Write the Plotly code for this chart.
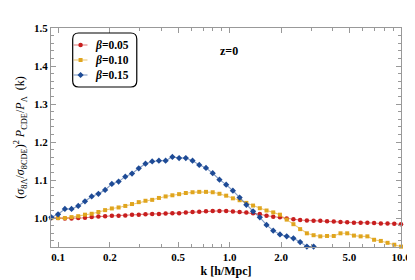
import plotly.graph_objects as go

k = [0.0912, 0.0998, 0.1094, 0.1196, 0.1309, 0.1433, 0.1568, 0.1716, 0.1878, 0.2056,
     0.2251, 0.2463, 0.2696, 0.2951, 0.3230, 0.3535, 0.3869, 0.4234, 0.4636, 0.5074,
     0.5553, 0.6078, 0.6652, 0.7282, 0.7970, 0.8726, 0.9550, 1.0452, 1.1440, 1.2524,
     1.3707, 1.5005, 1.6423, 1.7973, 1.9671, 2.1535, 2.3569, 2.5794, 2.8236, 3.0903,
     3.3820, 3.7025, 4.0522, 4.4349, 4.8551, 5.3137, 5.8157, 6.3650, 6.9666, 7.6260,
     8.3465, 9.1366, 10.0]

beta_005 = [1.000, 1.000, 0.999, 0.999, 1.000, 1.001, 1.003, 1.004, 1.005, 1.006,
            1.006, 1.007, 1.009, 1.009, 1.010, 1.011, 1.011, 1.012, 1.013, 1.013,
            1.015, 1.016, 1.017, 1.018, 1.019, 1.019, 1.019, 1.0175, 1.016, 1.015,
            1.013, 1.0105, 1.006, 1.0035, 1.002, 0.999, 0.997, 0.995, 0.994, 0.993,
            0.993, 0.992, 0.991, 0.990, 0.989, 0.988, 0.988, 0.988, 0.987, 0.986,
            0.986, 0.985, 0.984]

beta_010 = [1.000, 1.000, 1.000, 1.0026, 1.005, 1.009, 1.0114, 1.016, 1.021, 1.0254,
            1.028, 1.032, 1.037, 1.042, 1.0456, 1.048, 1.053, 1.057, 1.060, 1.063,
            1.066, 1.068, 1.069, 1.069, 1.068, 1.064, 1.059, 1.052, 1.047, 1.040,
            1.033, 1.026, 1.020, 1.015, 1.009, 0.996, 0.984, 0.971, 0.960, 0.955,
            0.952, 0.953, 0.953, 0.960, 0.960, 0.954, 0.952, 0.952, 0.943, 0.940,
            0.935, 0.930, 0.925]

beta_015 = [1.002, 1.010, 1.024, 1.024, 1.032, 1.044, 1.057, 1.064, 1.074, 1.090,
            1.096, 1.109, 1.117, 1.131, 1.143, 1.149, 1.151, 1.151, 1.161, 1.158,
            1.158, 1.151, 1.140, 1.132, 1.118, 1.101, 1.088, 1.072, 1.054, 1.035,
            1.018, 1.002, 0.982, 0.967, 0.957, 0.952, 0.947, 0.937, 0.925, 0.925]

series_names = ["<i>β</i>=0.05", "<i>β</i>=0.10", "<i>β</i>=0.15"]

x_ticks = [0.1, 0.2, 0.5, 1.0, 2.0, 5.0, 10.0]
x_ticklabels = ["0.1", "0.2", "0.5", "1.0", "2.0", "5.0", "10.0"]
x_minor = [0.3, 0.4, 0.6, 0.7, 0.8, 0.9, 3, 4, 6, 7, 8, 9]
y_ticks = [1.0, 1.1, 1.2, 1.3, 1.4, 1.5]
y_ticklabels = ["1.0", "1.1", "1.2", "1.3", "1.4", "1.5"]

styles = [
    ("#C81E1E", "rgba(200,30,30,0.55)", "circle", 4.5),
    ("#E0A51E", "rgba(224,165,30,0.6)", "square", 4),
    ("#1E4B96", "rgba(30,75,150,0.55)", "diamond", 4.8),
]
data = [beta_005, beta_010, beta_015]

SERIF = "Liberation Serif"
W, H = 415, 280
L, R, T, B = 43, 17, 20, 41
pw, ph = W - L - R, H - T - B


def px(xp):
    return (xp - L) / pw


def py(yp):
    return (H - B - yp) / ph


fig = go.Figure()
for name, ys, (mc, lc, sym, ms) in zip(series_names, data, styles):
    fig.add_trace(go.Scatter(
        x=k[:len(ys)], y=ys, name=name, mode="lines+markers",
        line=dict(color=lc, width=1.1),
        marker=dict(color=mc, size=ms, symbol=sym),
        cliponaxis=False, showlegend=False,
    ))

# manual legend drawn on an overlay axis in [0,1] plot-area coordinates
legend_y = [37, 52, 67]
annotations = []
for (name, (mc, lc, sym, ms), yp) in zip(series_names, styles, legend_y):
    fig.add_trace(go.Scatter(
        x=[px(66), px(80)], y=[py(yp), py(yp)], mode="lines",
        line=dict(color=lc, width=1.1), xaxis="x2", yaxis="y2",
        showlegend=False, hoverinfo="skip"))
    fig.add_trace(go.Scatter(
        x=[px(73)], y=[py(yp)], mode="markers",
        marker=dict(color=mc, size=ms, symbol=sym), xaxis="x2", yaxis="y2",
        showlegend=False, hoverinfo="skip"))
    annotations.append(dict(
        text=name, x=px(86), y=py(yp), xref="paper", yref="paper",
        xanchor="left", yanchor="middle", showarrow=False,
        font=dict(family=SERIF, size=11.5, weight="bold")))

annotations.append(dict(
    text="z=0", x=px(212), y=py(43), xref="paper", yref="paper",
    xanchor="left", yanchor="middle", showarrow=False,
    font=dict(family=SERIF, size=12, weight="bold")))

x0, x1, y0, y1 = px(65), px(130), py(79), py(25)
rx, ry = 6 / pw, 6 / ph
path = (f"M {x0+rx},{y1} L {x1-rx},{y1} Q {x1},{y1} {x1},{y1-ry} "
        f"L {x1},{y0+ry} Q {x1},{y0} {x1-rx},{y0} L {x0+rx},{y0} "
        f"Q {x0},{y0} {x0},{y0+ry} L {x0},{y1-ry} Q {x0},{y1} {x0+rx},{y1} Z")

fig.update_layout(
    width=W, height=H,
    margin=dict(l=L, r=R, t=T, b=B),
    paper_bgcolor="white", plot_bgcolor="white",
    font=dict(family=SERIF, color="black", size=11),
    showlegend=False,
    shapes=[dict(type="path", path=path, xref="paper", yref="paper",
                 line=dict(color="black", width=1.2), layer="above")],
    annotations=annotations,
    xaxis=dict(
        type="log", range=[-1.042, 1.0], tickvals=x_ticks, ticktext=x_ticklabels,
        ticks="inside", ticklen=5, tickcolor="#999", showline=True, linecolor="#999",
        linewidth=1, mirror="allticks", showgrid=False, zeroline=False,
        tickfont=dict(family=SERIF, size=11, weight="bold"),
        title=dict(text="k [h/Mpc]", font=dict(family=SERIF, size=12, weight="bold"), standoff=4),
        minor=dict(tickvals=x_minor, ticks="inside", ticklen=3, tickcolor="#999", showgrid=False),
    ),
    yaxis=dict(
        range=[0.924, 1.5], tickvals=y_ticks, ticktext=y_ticklabels,
        ticks="inside", ticklen=5, tickcolor="#999", showline=True, linecolor="#999",
        linewidth=1, mirror="allticks", showgrid=False, zeroline=False,
        tickfont=dict(family=SERIF, size=11, weight="bold"),
        title=dict(text="(<i>σ</i><sub>8Λ</sub>/<i>σ</i><sub>8CDE</sub>)<sup>2</sup> <i>P</i><sub>CDE</sub>/<i>P</i><sub>Λ</sub>  (k)",
                   font=dict(family=SERIF, size=12), standoff=6),
        minor=dict(dtick=0.02, tick0=0.0, ticks="inside", ticklen=3, tickcolor="#999", showgrid=False),
    ),
    xaxis2=dict(overlaying="x", range=[0, 1], visible=False, fixedrange=True),
    yaxis2=dict(overlaying="y", range=[0, 1], visible=False, fixedrange=True),
)

fig.write_html("out.html")
